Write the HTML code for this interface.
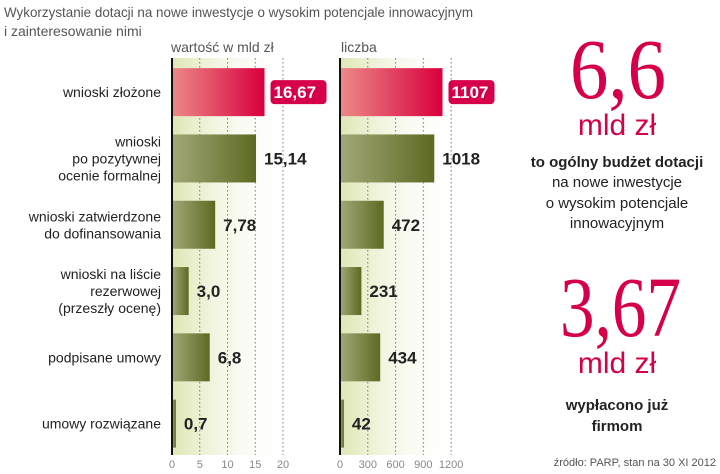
<!DOCTYPE html>
<html><head><meta charset="utf-8"><style>
body{margin:0;background:#fff;width:720px;height:474px;overflow:hidden}
svg{display:block}
</style></head><body>
<svg id="c" width="720" height="474" xmlns="http://www.w3.org/2000/svg" font-family="Liberation Sans, sans-serif">
<defs>
<linearGradient id="bg" x1="0" x2="1"><stop offset="0" stop-color="#dfe6b4"/><stop offset="1" stop-color="#fff" stop-opacity="0"/></linearGradient>
<linearGradient id="red" x1="0" x2="1"><stop offset="0" stop-color="#ec8a88"/><stop offset="1" stop-color="#d8003e"/></linearGradient>
<linearGradient id="grn" x1="0" x2="1"><stop offset="0" stop-color="#a3a878"/><stop offset="1" stop-color="#5c6a22"/></linearGradient>
</defs>
<text x="4" y="17" font-size="14" fill="#555" textLength="469" lengthAdjust="spacingAndGlyphs">Wykorzystanie dotacji na nowe inwestycje o wysokim potencjale innowacyjnym</text>
<text x="4" y="36" font-size="14" fill="#555">i zainteresowanie nimi</text>
<text x="171" y="52" font-size="14" fill="#555">wartość w mld zł</text>
<text x="341" y="52" font-size="14" fill="#555">liczba</text>
<g id="plots"></g>
<g text-anchor="middle" fill="#d6004a">
<text x="570" y="98" font-size="86" text-anchor="start" textLength="96" lengthAdjust="spacingAndGlyphs" font-family="Liberation Serif, serif">6,6</text>
<text x="617" y="135" font-size="30">mld zł</text>
<g fill="#222" font-size="15"><text x="617" y="167" font-weight="bold">to ogólny budżet dotacji</text><text x="617" y="187">na nowe inwestycje</text><text x="617" y="208">o wysokim potencjale</text><text x="617" y="228">innowacyjnym</text></g>
<text x="560" y="336" font-size="86" text-anchor="start" textLength="121" lengthAdjust="spacingAndGlyphs" font-family="Liberation Serif, serif">3,67</text>
<text x="617" y="373" font-size="30">mld zł</text>
<g fill="#222" font-size="15" font-weight="bold"><text x="617" y="410">wypłacono już</text><text x="617" y="431">firmom</text></g>
</g>
<text x="716" y="466" font-size="11" fill="#555" text-anchor="end">źródło: PARP, stan na 30 XI 2012</text>
</svg>
<script>
const categories=[["wnioski złożone"],["wnioski","po pozytywnej","ocenie formalnej"],["wnioski zatwierdzone","do dofinansowania"],["wnioski na liście","rezerwowej","(przeszły ocenę)"],["podpisane umowy"],["umowy rozwiązane"]];
const valuesMld=[16.67,15.14,7.78,3.0,6.8,0.7];
const labelsMld=["16,67","15,14","7,78","3,0","6,8","0,7"];
const valuesCount=[1107,1018,472,231,434,42];
const ticksMld=[0,5,10,15,20];
const ticksCount=[0,300,600,900,1200];
const NS="http://www.w3.org/2000/svg";
const g=document.getElementById('plots');
function el(t,a,p){const e=document.createElementNS(NS,t);for(const k in a)e.setAttribute(k,a[k]);(p||g).appendChild(e);return e;}
const top0=58,rowH=66.3,barH=48;
const rowY=i=>top0+rowH*i+(rowH-barH)/2+1;
categories.forEach((lines,i)=>{
  const cy=rowY(i)+barH/2, n=lines.length;
  lines.forEach((s,j)=>{const t=el('text',{x:161,y:cy+5+(j-(n-1)/2)*17,'font-size':14,fill:'#222','text-anchor':'end'});t.textContent=s;
  
  });
});
function panel(x0,pxPer,vals,labels,ticks,name){
  const grp=el('g',{});
  
  
  const X=v=>x0+v*pxPer;
  el('rect',{x:x0,y:top0,width:X(ticks[ticks.length-1])-x0+10,height:455-top0,fill:'url(#bg)'},grp);
  ticks.forEach(t=>{if(t>0)el('line',{x1:X(t),x2:X(t),y1:top0,y2:455,stroke:'#777','stroke-dasharray':'1.5,2.5','stroke-width':1},grp);
    const tl=el('text',{x:X(t),y:468,'font-size':11,fill:'#888','text-anchor':'middle'},grp);tl.textContent=t;
    
    });
  vals.forEach((v,i)=>{
    const y=rowY(i);
    const b=el('rect',{x:x0,y:y,width:X(v)-x0,height:barH,fill:i==0?'url(#red)':'url(#grn)'},grp);
    
    
    const lx=X(v)+8;
    if(i==0){const w=labels[i].length*10+6;el('rect',{x:lx-2,y:y+12,width:w,height:24,rx:4,fill:'#d6004a'},grp);}
    const t=el('text',{x:lx+(i==0?1:0),y:y+barH/2+6,'font-size':17,'font-weight':'bold',fill:i==0?'#fff':'#222'},grp);
    t.textContent=labels[i];
    
    
  });
  el('line',{x1:x0,x2:x0,y1:top0,y2:455,stroke:'#111','stroke-width':2},grp);
}
panel(172,5.55,valuesMld,labelsMld,ticksMld,'value-panel');
panel(340,0.0926,valuesCount,valuesCount.map(String),ticksCount,'count-panel');
</script>
</body></html>
